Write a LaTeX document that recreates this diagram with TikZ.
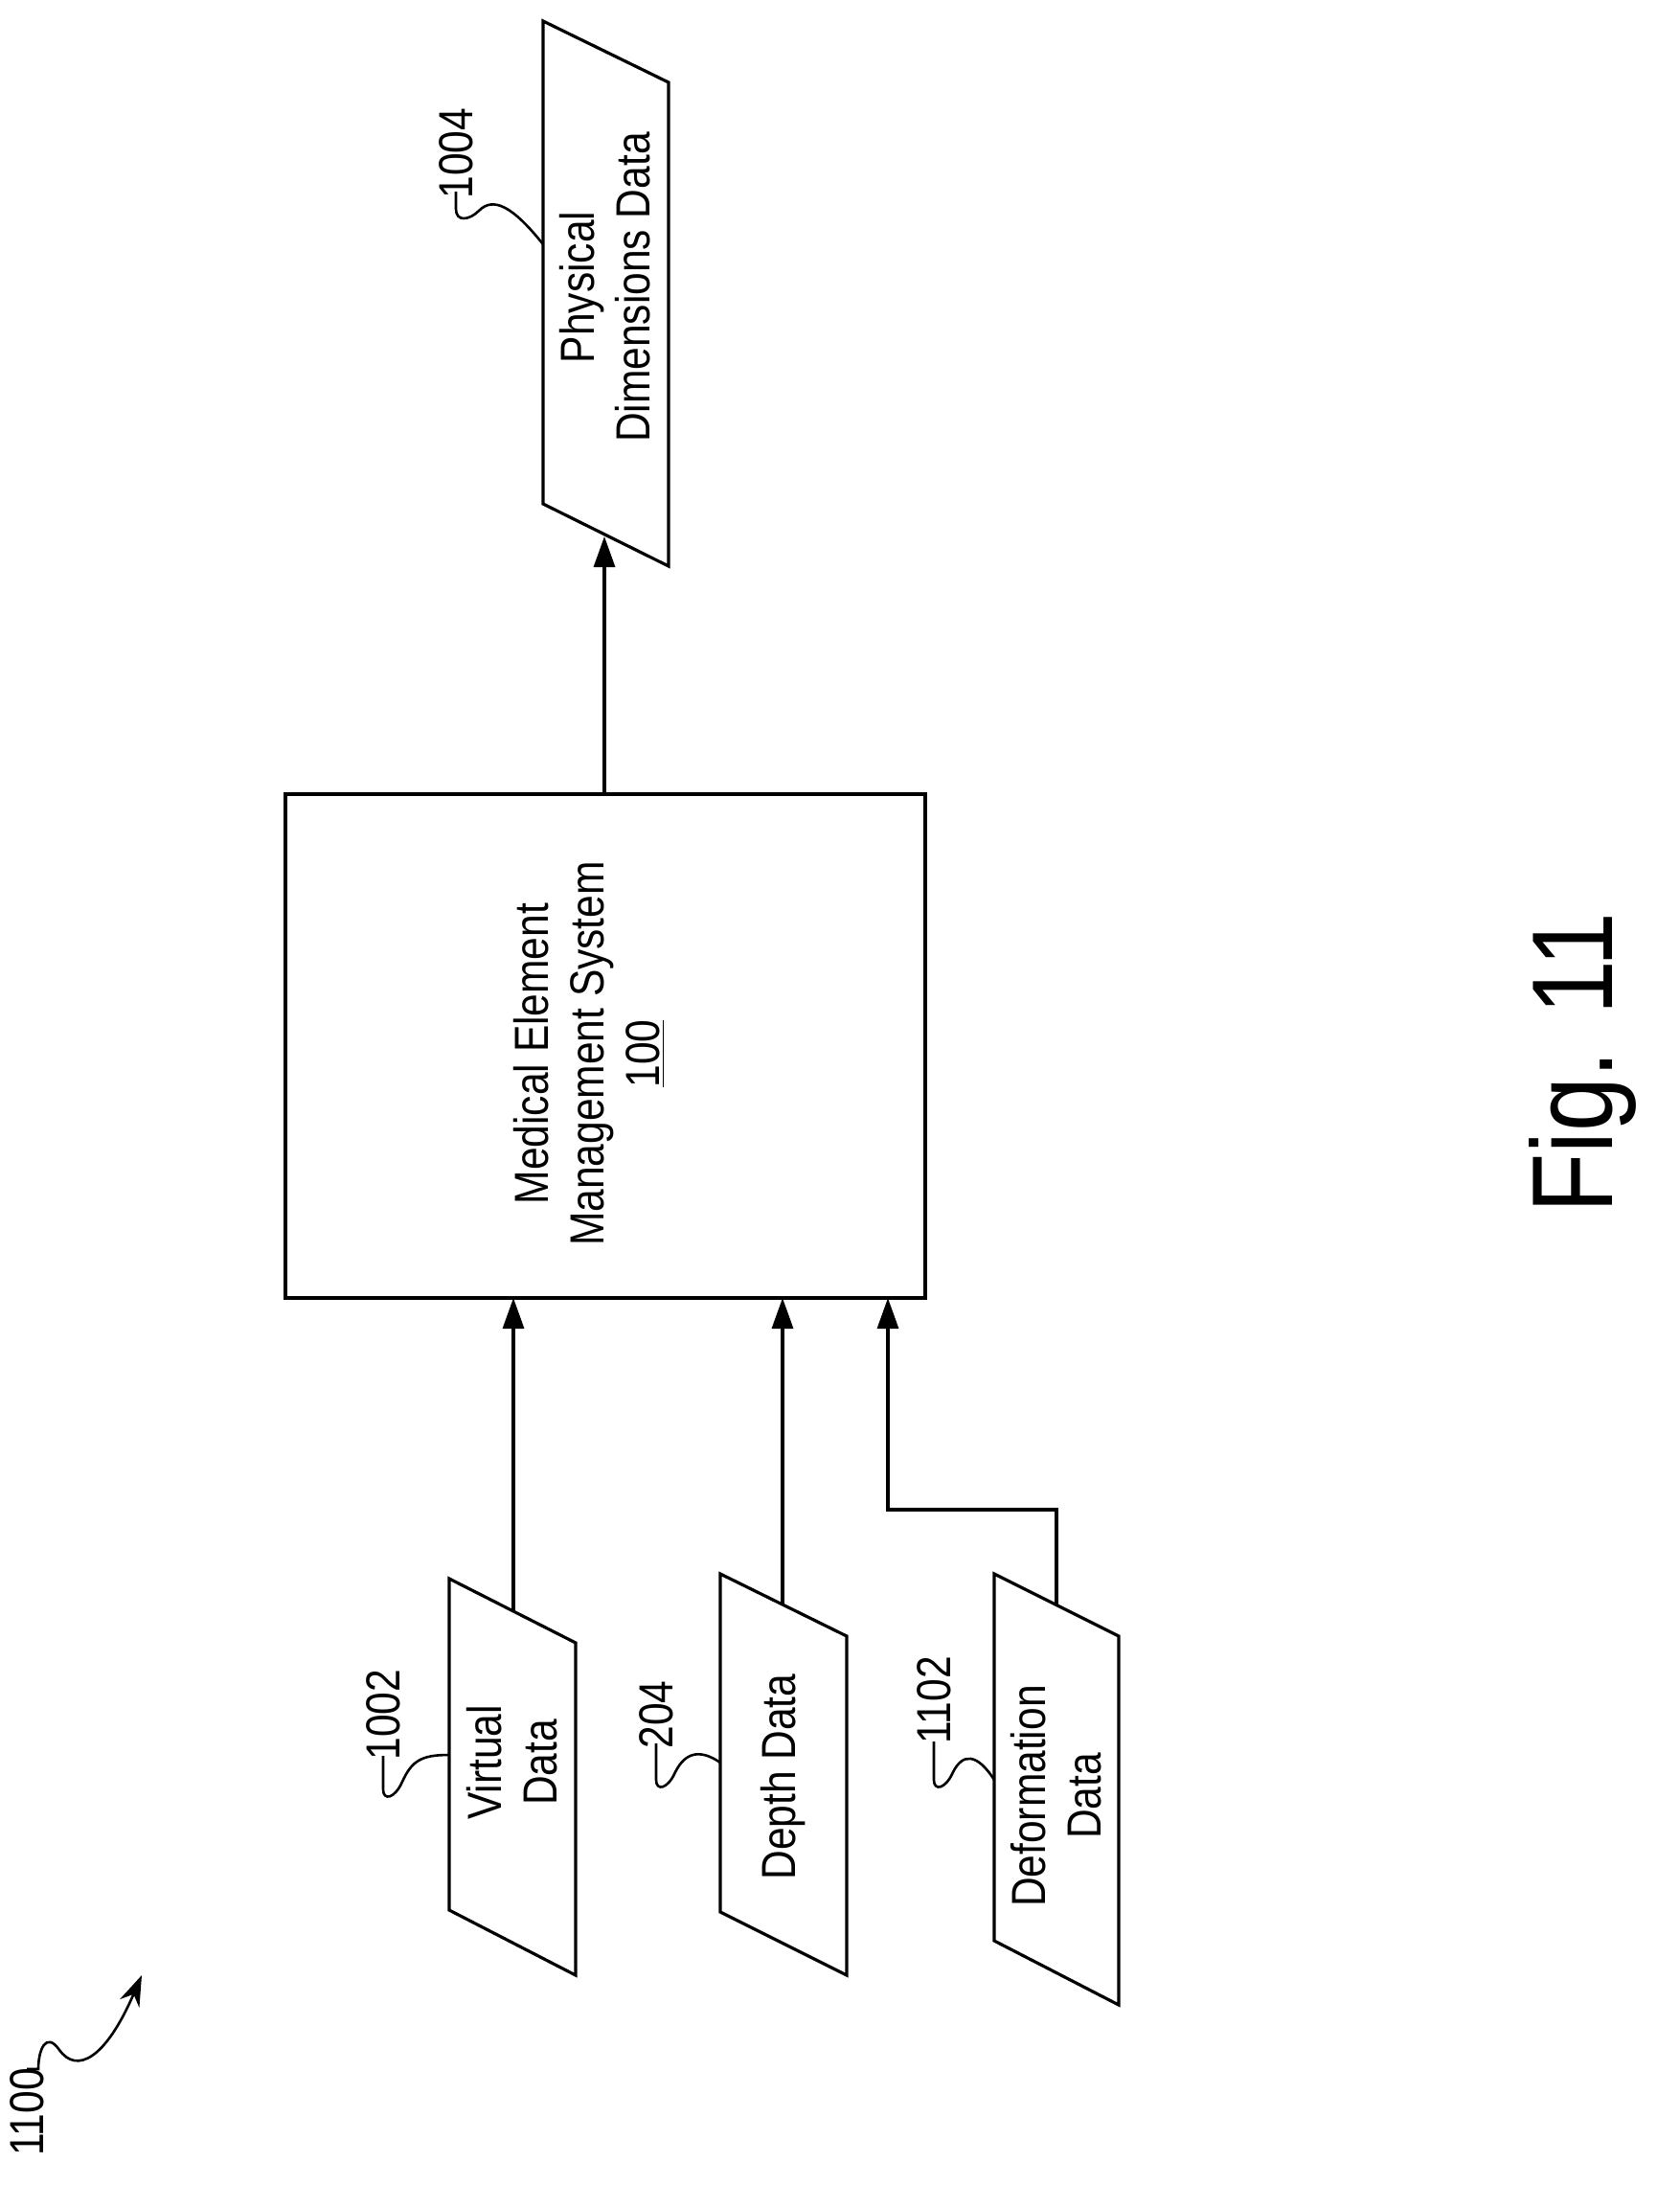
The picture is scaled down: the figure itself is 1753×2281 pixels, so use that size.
\documentclass[tikz,border=0pt]{standalone}
\usepackage{fontspec}
\setmainfont[FakeStretch=0.85]{Liberation Sans}
\usetikzlibrary{arrows.meta}
\begin{document}
\begin{tikzpicture}[x=0.5pt,y=-0.5pt,line width=1.6pt,
  lbl/.style={rotate=90,font=\fontsize{25}{29}\selectfont,align=center,inner sep=0},
  arr/.style={-{Triangle[length=16pt,width=11pt]}},
  lead/.style={line width=1.3pt}]
\useasboundingbox (0,0) rectangle (1753,2281);
% main box
\draw (298,829) rectangle (966,1355);
\node[lbl] (mems) at (615,1100) {Medical Element\\Management System\\\underline{100}};
\coordinate (boxT) at (631,829);
% physical
\draw (567,22) -- (698,86) -- (698,591) -- (567,526) -- cycle;
\node[lbl] (phys) at (632,300) {Physical\\Dimensions Data};
\coordinate (physB) at (631,560);
\draw[arr] (boxT) -- (physB);
\node[lbl] (l1004) at (476,160) {1004};
\draw[lead] (476,200) -- (476,218) .. controls (476,232) and (490,230) .. (500,220) .. controls (515,205) and (535,215) .. (567,255);
% virtual
\draw (469,1648) -- (601,1715) -- (601,2062) -- (469,1994) -- cycle;
\node[lbl] (virt) at (535,1840) {Virtual\\Data};
\coordinate (virtT) at (536,1682);
\coordinate (boxB1) at (536,1355);
\draw[arr] (virtT) -- (boxB1);
\node[lbl] (l1002) at (400,1790) {1002};
\draw[lead] (400,1833) -- (400,1868) .. controls (400,1880) and (412,1878) .. (420,1860) .. controls (430,1838) and (440,1832) .. (469,1832);
% depth
\draw (752,1643) -- (884,1708) -- (884,2062) -- (752,1996) -- cycle;
\node[lbl] (depth) at (818,1855) {Depth Data};
\coordinate (depT) at (817,1675);
\coordinate (boxB2) at (817,1355);
\draw[arr] (depT) -- (boxB2);
\node[lbl] (l204) at (685,1790) {204};
\draw[lead] (685,1820) -- (685,1858) .. controls (685,1870) and (697,1868) .. (705,1850) .. controls (715,1830) and (730,1825) .. (752,1840);
% deformation
\draw (1038,1643) -- (1168,1708) -- (1168,2093) -- (1038,2026) -- cycle;
\node[lbl] (deform) at (1103,1875) {Deformation\\Data};
\coordinate (defT) at (1103,1675);
\coordinate (bend1) at (1103,1576);
\coordinate (bend2) at (927,1576);
\coordinate (boxB3) at (927,1355);
\draw[arr] (defT) -- (bend1) -- (bend2) -- (boxB3);
\node[lbl] (l1102) at (975,1775) {1102};
\draw[lead] (975,1818) -- (975,1858) .. controls (975,1870) and (987,1868) .. (995,1850) .. controls (1005,1830) and (1020,1830) .. (1038,1858);
% 1100
\node[lbl] (l1100) at (28,2205) {1100};
\coordinate (ref) at (148,2062);
\draw[lead,-{Stealth[length=16pt,width=11pt]}] (28,2160) -- (40,2160) .. controls (40,2140) and (48,2120) .. (62,2140) .. controls (80,2165) and (110,2150) .. (ref);
% fig
\node[rotate=90,font=\fontsize{60}{62}\selectfont,inner sep=0] (fig) at (1652,1110) {Fig. 11};
\end{tikzpicture}
\end{document}
